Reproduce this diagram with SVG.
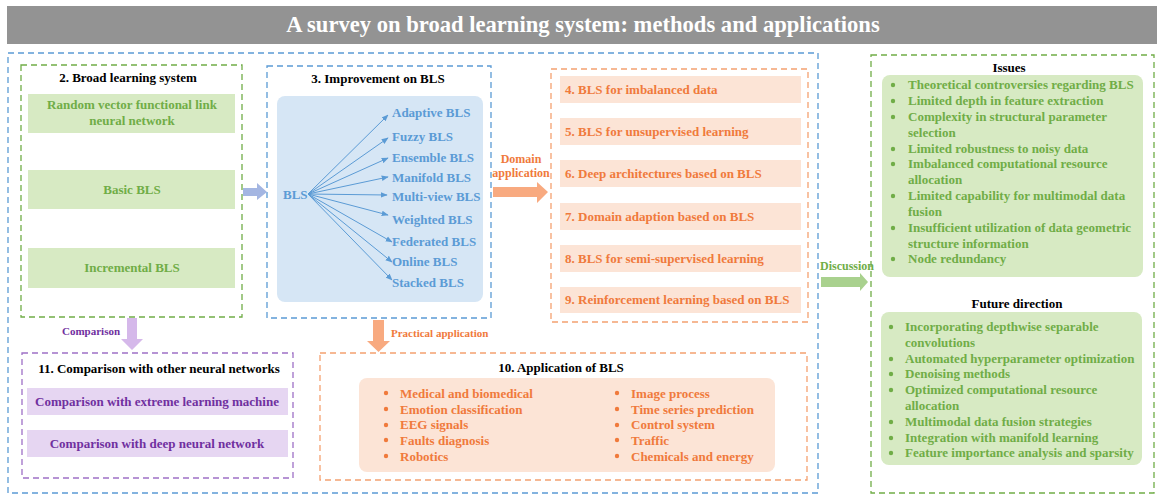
<svg xmlns="http://www.w3.org/2000/svg" width="1166" height="501" viewBox="0 0 1166 501">
<defs>
<style>
text{font-family:"Liberation Serif","Times New Roman",serif;font-weight:bold;font-size:13px}
.t{fill:#000}
.g{fill:#70ad47}
.b{fill:#5b9bd5}
.o{fill:#f07a3c}
.p{fill:#7030a0}
.c{text-anchor:middle}
.dg{fill:none;stroke:#70ad47;stroke-width:1.3;stroke-dasharray:6 4}
.db{fill:none;stroke:#5b9bd5;stroke-width:1.3;stroke-dasharray:6 4}
.do{fill:none;stroke:#f4a170;stroke-width:1.3;stroke-dasharray:6 4}
.dp{fill:none;stroke:#9e70c6;stroke-width:1.3;stroke-dasharray:6 4}
.fg{fill:#d7eac3}
.fb{fill:#d6e6f5}
.fo{fill:#fce4d6}
.fp{fill:#e6d6f2}
.ln{stroke:#5b9bd5;stroke-width:1;fill:none;marker-end:url(#ah)}
</style>
<marker id="ah" viewBox="0 0 10 10" refX="9" refY="5" markerWidth="7" markerHeight="7" orient="auto" markerUnits="userSpaceOnUse">
<path d="M0,1 L10,5 L0,9 Z" fill="#5b9bd5"/>
</marker>
</defs>
<rect width="1166" height="501" fill="#fff"/>

<g id="title">
<rect x="7" y="6" width="1150" height="38" fill="#939393"/>
<text x="583" y="32" class="c" style="font-size:22.6px;fill:#fff">A survey on broad learning system: methods and applications</text>
</g>

<g id="outer">
<rect x="8" y="53" width="810" height="440" class="db"/>
</g>

<g id="sec2">
<rect x="21" y="65" width="221" height="252" class="dg"/>
<text x="128" y="82" class="t c">2. Broad learning system</text>
<rect x="28" y="94" width="207" height="39" class="fg"/>
<text x="132" y="109" class="g c">Random vector functional link</text>
<text x="132" y="125" class="g c">neural network</text>
<rect x="28" y="170" width="207" height="39" class="fg"/>
<text x="132" y="194" class="g c">Basic BLS</text>
<rect x="28" y="248" width="207" height="40" class="fg"/>
<text x="132" y="272" class="g c">Incremental BLS</text>
</g>

<g id="sec3">
<rect x="267" y="66" width="224" height="252" class="db"/>
<text x="378" y="83" class="t c">3. Improvement on BLS</text>
<rect x="277" y="96" width="206" height="206" rx="8" class="fb"/>
<text x="283" y="199" class="b">BLS</text>
<text x="392" y="117" class="b">Adaptive BLS</text>
<text x="392" y="141" class="b">Fuzzy BLS</text>
<text x="392" y="162" class="b">Ensemble BLS</text>
<text x="392" y="182" class="b">Manifold BLS</text>
<text x="392" y="201" class="b">Multi-view BLS</text>
<text x="392" y="224" class="b">Weighted BLS</text>
<text x="392" y="246" class="b">Federated BLS</text>
<text x="392" y="266" class="b">Online BLS</text>
<text x="392" y="287" class="b">Stacked BLS</text>
</g>

<g id="sec4to9">
<rect x="551" y="69" width="257" height="253" class="do"/>
<rect x="560" y="76" width="241" height="27" class="fo"/>
<text x="565" y="94" class="o">4. BLS for imbalanced data</text>
<rect x="560" y="118" width="241" height="27" class="fo"/>
<text x="565" y="136" class="o">5. BLS for unsupervised learning</text>
<rect x="560" y="160" width="241" height="27" class="fo"/>
<text x="565" y="178" class="o">6. Deep architectures based on BLS</text>
<rect x="560" y="203" width="241" height="27" class="fo"/>
<text x="565" y="221" class="o">7. Domain adaption based on BLS</text>
<rect x="560" y="245" width="241" height="27" class="fo"/>
<text x="565" y="263" class="o">8. BLS for semi-supervised learning</text>
<rect x="560" y="287" width="241" height="26" class="fo"/>
<text x="565" y="304" class="o">9. Reinforcement learning based on BLS</text>
</g>

<g id="sec11">
<rect x="22" y="353" width="271" height="125" class="dp"/>
<text x="159" y="373" class="t c">11. Comparison with other neural networks</text>
<rect x="27" y="388" width="261" height="27" class="fp"/>
<text x="157" y="406" class="p c">Comparison with extreme learning machine</text>
<rect x="27" y="430" width="261" height="27" class="fp"/>
<text x="157" y="448" class="p c">Comparison with deep neural network</text>
</g>

<g id="sec10">
<rect x="320" y="353" width="487" height="127" class="do"/>
<text x="561" y="372" class="t c">10. Application of BLS</text>
<rect x="359" y="378" width="416" height="94" rx="8" class="fo"/>
<g fill="#f07a3c">
<circle cx="386" cy="393" r="2.2"/>
<circle cx="386" cy="409" r="2.2"/>
<circle cx="386" cy="425" r="2.2"/>
<circle cx="386" cy="440" r="2.2"/>
<circle cx="386" cy="456" r="2.2"/>
<circle cx="617" cy="393" r="2.2"/>
<circle cx="617" cy="409" r="2.2"/>
<circle cx="617" cy="425" r="2.2"/>
<circle cx="617" cy="440" r="2.2"/>
<circle cx="617" cy="456" r="2.2"/>
</g>
<text x="400" y="398" class="o">Medical and biomedical</text>
<text x="400" y="414" class="o">Emotion classification</text>
<text x="400" y="429" class="o">EEG signals</text>
<text x="400" y="445" class="o">Faults diagnosis</text>
<text x="400" y="461" class="o">Robotics</text>
<text x="631" y="398" class="o">Image process</text>
<text x="631" y="414" class="o">Time series prediction</text>
<text x="631" y="429" class="o">Control system</text>
<text x="631" y="445" class="o">Traffic</text>
<text x="631" y="461" class="o">Chemicals and energy</text>
</g>

<g id="discussion">
<rect x="871" y="55" width="283" height="438" class="dg"/>
<text x="1009" y="72" class="t c">Issues</text>
<rect x="882" y="75" width="261" height="202" rx="8" class="fg"/>
<g fill="#70ad47">
<circle cx="893" cy="85" r="2.2"/>
<circle cx="893" cy="101" r="2.2"/>
<circle cx="893" cy="117" r="2.2"/>
<circle cx="893" cy="149" r="2.2"/>
<circle cx="893" cy="164" r="2.2"/>
<circle cx="893" cy="196" r="2.2"/>
<circle cx="893" cy="228" r="2.2"/>
<circle cx="893" cy="259" r="2.2"/>
</g>
<text x="908" y="89" class="g">Theoretical controversies regarding BLS</text>
<text x="908" y="105" class="g">Limited depth in feature extraction</text>
<text x="908" y="121" class="g">Complexity in structural parameter</text>
<text x="908" y="137" class="g">selection</text>
<text x="908" y="153" class="g">Limited robustness to noisy data</text>
<text x="908" y="168" class="g">Imbalanced computational resource</text>
<text x="908" y="184" class="g">allocation</text>
<text x="908" y="200" class="g">Limited capability for multimodal data</text>
<text x="908" y="216" class="g">fusion</text>
<text x="908" y="232" class="g">Insufficient utilization of data geometric</text>
<text x="908" y="248" class="g">structure information</text>
<text x="908" y="263" class="g">Node redundancy</text>

<text x="1017" y="308" class="t c">Future direction</text>
<rect x="881" y="312" width="261" height="153" rx="8" class="fg"/>
<g fill="#70ad47">
<circle cx="891" cy="327" r="2.2"/>
<circle cx="891" cy="359" r="2.2"/>
<circle cx="891" cy="374" r="2.2"/>
<circle cx="891" cy="390" r="2.2"/>
<circle cx="891" cy="422" r="2.2"/>
<circle cx="891" cy="438" r="2.2"/>
<circle cx="891" cy="453" r="2.2"/>
</g>
<text x="905" y="331" class="g">Incorporating depthwise separable</text>
<text x="905" y="347" class="g">convolutions</text>
<text x="905" y="363" class="g">Automated hyperparameter optimization</text>
<text x="905" y="378" class="g">Denoising methods</text>
<text x="905" y="394" class="g">Optimized computational resource</text>
<text x="905" y="410" class="g">allocation</text>
<text x="905" y="426" class="g">Multimodal data fusion strategies</text>
<text x="905" y="442" class="g">Integration with manifold learning</text>
<text x="905" y="457" class="g">Feature importance analysis and sparsity</text>
</g>

<g id="connectors">
<line x1="308" y1="194" x2="388" y2="115" class="ln"/>
<line x1="308" y1="194" x2="388" y2="138" class="ln"/>
<line x1="308" y1="194" x2="388" y2="158" class="ln"/>
<line x1="308" y1="194" x2="388" y2="177" class="ln"/>
<line x1="308" y1="194" x2="387" y2="195" class="ln"/>
<line x1="308" y1="194" x2="388" y2="215" class="ln"/>
<line x1="308" y1="194" x2="392" y2="242" class="ln"/>
<line x1="308" y1="194" x2="392" y2="262" class="ln"/>
<line x1="308" y1="194" x2="392" y2="280" class="ln"/>
<polygon points="243,188 257,188 257,183 267,192 257,200 257,196 243,196" fill="#a4b6e2"/>
<polygon points="493,187 537,187 537,182 548,192 537,203 537,197 493,197" fill="#f8aa80"/>
<text x="521" y="163" class="o c" style="font-size:12px">Domain</text>
<text x="521" y="177" class="o c" style="font-size:12px">application</text>
<polygon points="821,277 860,277 860,273 868,282 860,291 860,287 821,287" fill="#a9d18e"/>
<text x="820" y="270" class="g" style="font-size:12px">Discussion</text>
<polygon points="127,318 137,318 137,339 143,339 132,350 121,339 127,339" fill="#d5b8ea"/>
<text x="62" y="335" class="p" style="font-size:11px">Comparison</text>
<polygon points="373,320 384,320 384,341 390,341 378.5,352 367,341 373,341" fill="#f8aa80"/>
<text x="391" y="337" class="o" style="font-size:11px">Practical application</text>
</g>
</svg>
